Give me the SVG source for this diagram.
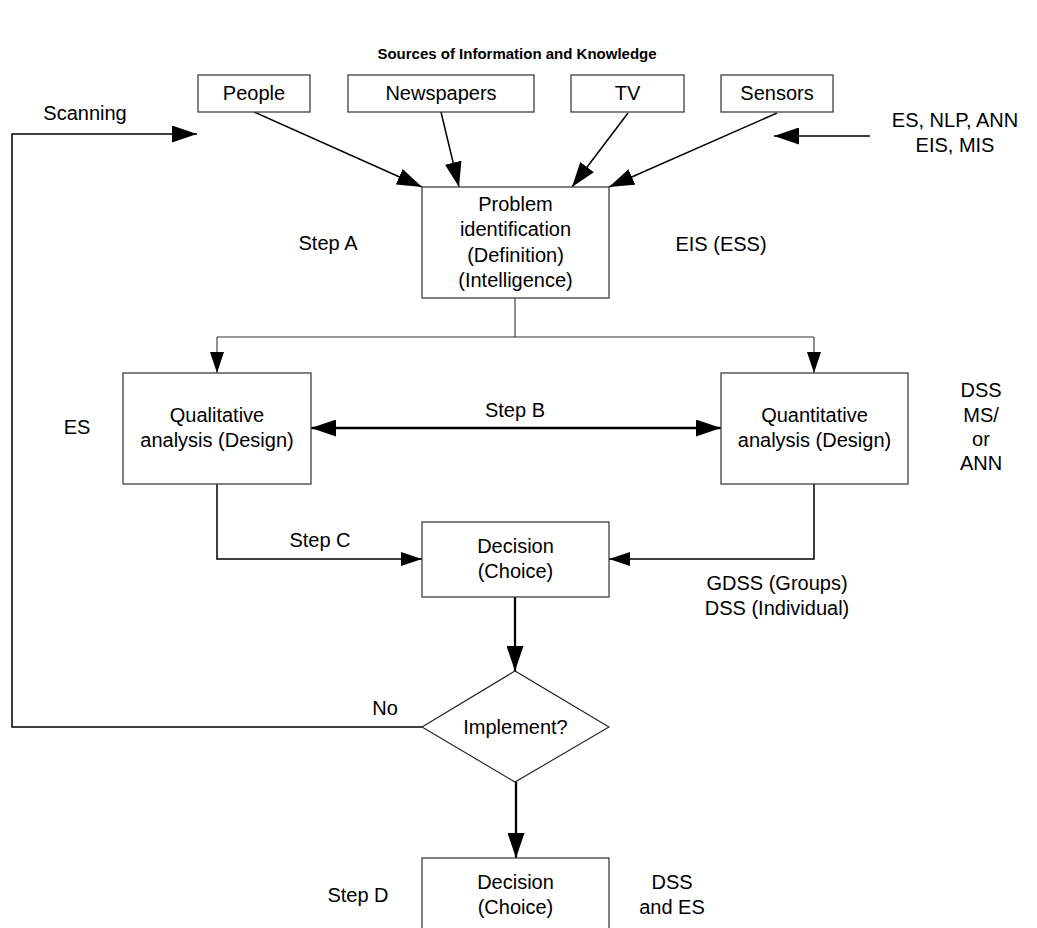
<svg xmlns="http://www.w3.org/2000/svg" width="1037" height="928" viewBox="0 0 1037 928">
  <style>
    .t { font-family: "Liberation Sans", Arial, sans-serif; font-size: 20px; fill: #000; text-anchor: middle; }
    .title { font-family: "Liberation Sans", Arial, sans-serif; font-size: 15px; font-weight: bold; fill: #000; text-anchor: middle; }
    .box { fill: #fff; stroke: #404040; stroke-width: 1.3; }
    .dia { fill: #fff; stroke: #202020; stroke-width: 1.1; }
    .c { fill: none; stroke: #000; }
    .thin { stroke-width: 1.1; stroke: #333; }
    .mid { stroke-width: 1.5; }
    .thick { stroke-width: 2.3; }
  </style>
  <defs>
    <marker id="big" viewBox="0 0 25 17" refX="25" refY="8.5" markerWidth="25" markerHeight="17" markerUnits="userSpaceOnUse" orient="auto-start-reverse">
      <path d="M0,0 L25,8.5 L0,17 z" fill="#000"/>
    </marker>
    <marker id="small" viewBox="0 0 21 14" refX="21" refY="7" markerWidth="21" markerHeight="14" markerUnits="userSpaceOnUse" orient="auto-start-reverse">
      <path d="M0,0 L21,7 L0,14 z" fill="#000"/>
    </marker>
  </defs>

  <rect width="1037" height="928" fill="#fff"/>

  <text class="title" x="517" y="59">Sources of Information and Knowledge</text>

  <!-- connectors -->
  <g id="connectors">
    <!-- sources into problem identification -->
    <path class="c mid" d="M254,112 L422,187" marker-end="url(#big)"/>
    <path class="c mid" d="M441,112 L459,187" marker-end="url(#big)"/>
    <path class="c mid" d="M628,113 L572,187" marker-end="url(#big)"/>
    <path class="c mid" d="M777,113 L609,187" marker-end="url(#big)"/>
    <path class="c mid" d="M870,136 L774,136" marker-end="url(#big)"/>
    <!-- scanning feedback loop from "No" -->
    <path class="c mid" d="M422,727 H12 V134 H197" marker-end="url(#big)"/>
    <!-- split to the two analyses -->
    <path class="c thin" d="M515,298 V337"/>
    <path class="c thin" d="M217,337 H814"/>
    <path class="c thin" d="M217,337 V373" marker-end="url(#small)"/>
    <path class="c thin" d="M814,337 V373" marker-end="url(#small)"/>
    <!-- step B -->
    <path class="c thick" d="M311,428 H721" marker-start="url(#big)" marker-end="url(#big)"/>
    <!-- step C and quantitative into decision -->
    <path class="c mid" d="M217,484 V559 H422" marker-end="url(#small)"/>
    <path class="c mid" d="M814,484 V559 H609" marker-end="url(#small)"/>
    <!-- decision to implement -->
    <path class="c thick" d="M515,597 V671" marker-end="url(#big)"/>
    <path class="c thick" d="M516,782 V858" marker-end="url(#big)"/>
  </g>

  <g id="people">
    <rect class="box" x="198" y="75" width="112" height="37"/>
    <text class="t" x="254" y="100">People</text>
  </g>
  <g id="newspapers">
    <rect class="box" x="348" y="75" width="186" height="37"/>
    <text class="t" x="441" y="100">Newspapers</text>
  </g>
  <g id="tv">
    <rect class="box" x="571" y="75" width="113" height="37"/>
    <text class="t" x="627.5" y="100">TV</text>
  </g>
  <g id="sensors">
    <rect class="box" x="721" y="75" width="112" height="37"/>
    <text class="t" x="777" y="100">Sensors</text>
  </g>

  <g id="scanning-label">
    <text class="t" x="85" y="120">Scanning</text>
  </g>
  <g id="tools-label">
    <text class="t" x="955" y="127">ES, NLP, ANN</text>
    <text class="t" x="955" y="152">EIS, MIS</text>
  </g>

  <g id="problem">
    <rect class="box" x="422" y="187" width="187" height="111"/>
    <text class="t" x="515.5" y="211">Problem</text>
    <text class="t" x="515.5" y="236">identification</text>
    <text class="t" x="515.5" y="262">(Definition)</text>
    <text class="t" x="515.5" y="287">(Intelligence)</text>
  </g>
  <g id="step-a">
    <text class="t" x="328" y="250">Step A</text>
  </g>
  <g id="eis-label">
    <text class="t" x="721" y="251">EIS (ESS)</text>
  </g>

  <g id="qualitative">
    <rect class="box" x="123" y="373" width="188" height="111"/>
    <text class="t" x="217" y="422">Qualitative</text>
    <text class="t" x="217" y="447">analysis (Design)</text>
  </g>
  <g id="es-label">
    <text class="t" x="77" y="434">ES</text>
  </g>
  <g id="step-b">
    <text class="t" x="515" y="417">Step B</text>
  </g>
  <g id="quantitative">
    <rect class="box" x="721" y="373" width="187" height="111"/>
    <text class="t" x="814.5" y="422">Quantitative</text>
    <text class="t" x="814.5" y="447">analysis (Design)</text>
  </g>
  <g id="dss-label">
    <text class="t" x="981" y="397">DSS</text>
    <text class="t" x="981" y="422">MS/</text>
    <text class="t" x="981" y="446">or</text>
    <text class="t" x="981" y="470">ANN</text>
  </g>

  <g id="decision">
    <rect class="box" x="422" y="522" width="187" height="75"/>
    <text class="t" x="515.5" y="553">Decision</text>
    <text class="t" x="515.5" y="578">(Choice)</text>
  </g>
  <g id="step-c">
    <text class="t" x="320" y="547">Step C</text>
  </g>
  <g id="gdss-label">
    <text class="t" x="777" y="590">GDSS (Groups)</text>
    <text class="t" x="777" y="615">DSS (Individual)</text>
  </g>

  <g id="implement">
    <polygon class="dia" points="422,727 515,671 609,727 515,782"/>
    <text class="t" x="515.5" y="734">Implement?</text>
  </g>
  <g id="no-label">
    <text class="t" x="385" y="715">No</text>
  </g>

  <g id="decision-final">
    <rect class="box" x="422" y="858" width="187" height="90"/>
    <text class="t" x="515.5" y="889">Decision</text>
    <text class="t" x="515.5" y="914">(Choice)</text>
  </g>
  <g id="step-d">
    <text class="t" x="358" y="902">Step D</text>
  </g>
  <g id="dss-es-label">
    <text class="t" x="672" y="889">DSS</text>
    <text class="t" x="672" y="914">and ES</text>
  </g>
</svg>
